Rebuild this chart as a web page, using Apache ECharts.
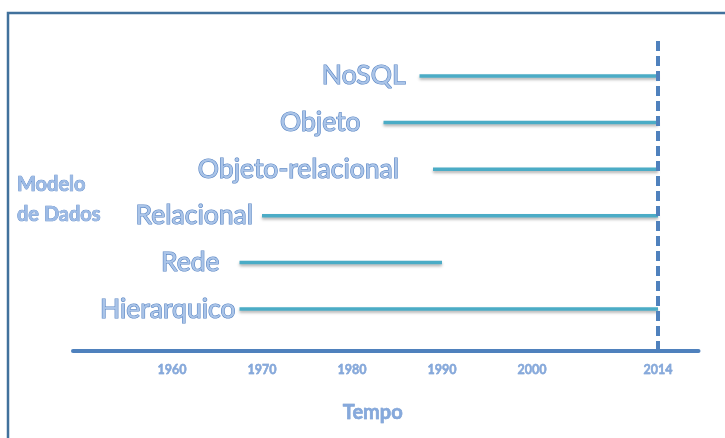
<!DOCTYPE html>
<html>
<head>
<meta charset="utf-8">
<script src="https://cdn.jsdelivr.net/npm/echarts@6/dist/echarts.min.js"></script>
<style>
  html, body { margin: 0; padding: 0; background: #fff; }
  #chartArea { width: 725px; height: 438px; }
</style>
</head>
<body>
<div id="chartArea"></div>
<script>
// modelos de dados, de baixo para cima
let models = ['Hierarquico', 'Rede', 'Relacional', 'Objeto-relacional', 'Objeto', 'NoSQL'];
let startYear = [1967.5, 1967.5, 1970, 1989, 1983.5, 1987.5];
let endYear = [2014, 1990, 2014, 2014, 2014, 2014];
let tickYears = [1960, 1970, 1980, 1990, 2000, 2014];
let nowYear = 2014;

// distancia entre o texto e o inicio da linha
let labelGap = [4, 20, 9, 34, 23, 14];

let lineColor = '#4bacc6';
let axisColor = '#4f81bd';

let dom = document.getElementById('chartArea');
let myChart = echarts.init(dom);

let series = [];
for (let i = 0; i < models.length; i++) {
    series.push({
        name: models[i],
        type: 'line',
        symbol: 'none',
        silent: true,
        data: [[startYear[i], i], [endYear[i], i]],
        lineStyle: {
            color: lineColor,
            width: 3.5,
            shadowColor: 'rgba(0,0,0,0.3)',
            shadowBlur: 3,
            shadowOffsetY: 2
        },
        // texto do modelo a esquerda do inicio
        markPoint: {
            symbol: 'circle',
            symbolSize: 0,
            silent: true,
            data: [{coord: [startYear[i], i]}],
            label: {
                show: true,
                position: 'left',
                distance: labelGap[i],
                formatter: models[i],
                fontFamily: 'Lato',
                fontSize: 26.5,
                color: '#aac4e8',
                textBorderColor: '#5a86c4',
                textBorderWidth: 1.2
            }
        }
    });
}

series[0].markLine = {
    symbol: 'none',
    silent: true,
    label: {show: false},
    lineStyle: {color: axisColor, width: 4, type: [10, 5]},
    data: [{xAxis: nowYear}]
};

let option = {
    animation: false,
    title: {
        text: 'Modelo\nde Dados',
        left: 12,
        top: 165,
        textStyle: {
            fontFamily: 'Lato',
            fontSize: 20,
            fontWeight: 'bold',
            lineHeight: 30,
            color: '#9dbbe6',
            textBorderColor: '#5a86c4',
            textBorderWidth: 0.7
        }
    },
    graphic: [{
        type: 'rect',
        silent: true,
        shape: {x: 8, y: 13, width: 800, height: 500},
        style: {fill: 'none', stroke: '#41719c', lineWidth: 2.5}
    }],
    grid: {left: 73, width: 625.5, top: 40, bottom: 87},
    xAxis: {
        type: 'value',
        min: 1949,
        max: 2018.5,
        name: 'Tempo',
        nameLocation: 'middle',
        nameGap: 52,
        nameTextStyle: {
            fontFamily: 'Lato',
            fontSize: 20,
            fontWeight: 'bold',
            color: '#86a9dc',
            textBorderColor: '#5a86c4',
            textBorderWidth: 0.5,
            padding: [0, 26, 0, 0]
        },
        axisLine: {show: true, onZero: false, lineStyle: {color: axisColor, width: 4}},
        axisTick: {show: false},
        splitLine: {show: false},
        axisLabel: {
            customValues: tickYears,
            formatter: function (v) { return String(v); },
            margin: 12,
            fontFamily: 'Lato',
            fontSize: 12.5,
            fontWeight: 'bold',
            color: '#86a9dc',
            textBorderColor: '#5a86c4',
            textBorderWidth: 0.4
        }
    },
    yAxis: {
        type: 'value',
        min: -0.9,
        max: 5.77,
        show: false,
        splitLine: {show: false}
    },
    series: series
};

myChart.setOption(option);
</script>
</body>
</html>
